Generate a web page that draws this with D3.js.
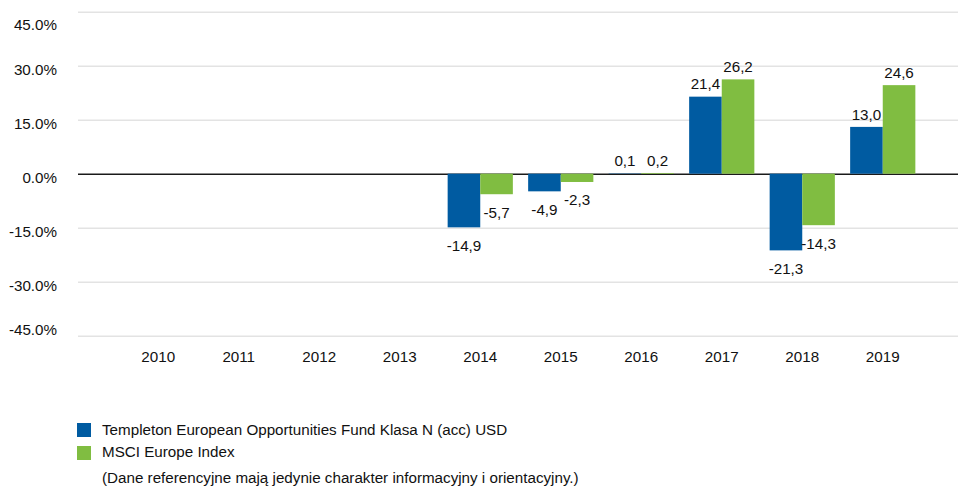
<!DOCTYPE html>
<html>
<head>
<meta charset="utf-8">
<script src="https://cdn.jsdelivr.net/npm/d3@7"></script>
<style>
  body { margin: 0; background: #fff; }
  svg { display: block; font-family: "Liberation Sans", Arial, sans-serif; }
</style>
</head>
<body>
<div id="chart"></div>
<script>
const years = ["2010", "2011", "2012", "2013", "2014", "2015", "2016", "2017", "2018", "2019"];
const fund = [null, null, null, null, -14.9, -4.9, 0.1, 21.4, -21.3, 13.0];
const index = [null, null, null, null, -5.7, -2.3, 0.2, 26.2, -14.3, 24.6];
const yTicks = [-45, -30, -15, 0, 15, 30, 45];
const seriesNames = ["Templeton European Opportunities Fund Klasa N (acc) USD", "MSCI Europe Index"];
const note = "(Dane referencyjne mają jedynie charakter informacyjny i orientacyjny.)";

const width = 958, height = 489;
const m = { l: 78, r: 0, t: 11.7, b: 153.3 };
const colors = ["#005BA1", "#80BD41"];
const fs = "15.2px";

const svg = d3.select("#chart").append("svg")
  .attr("width", width)
  .attr("height", height);

const x0 = d3.scaleBand()
  .domain(years)
  .range([118, 923])
  .paddingInner(0.19)
  .paddingOuter(0.095);

const x1 = d3.scaleBand()
  .domain([0, 1])
  .range([0, x0.bandwidth()]);

const y = d3.scaleLinear()
  .domain([-45, 45])
  .range([height - m.b, m.t]);

// hyphen minus, comma decimal
const fmt = v => d3.format(".1f")(v).replace("\u2212", "-").replace(".", ",");
const pct = v => d3.format(".1f")(v).replace("\u2212", "-") + "%";

// grid + y labels
const yAxis = svg.append("g")
  .attr("transform", `translate(${m.l},0)`)
  .call(d3.axisLeft(y).tickValues(yTicks).tickSize(-(width - m.l)).tickPadding(21)
    .tickFormat(pct));
yAxis.select(".domain").remove();
yAxis.selectAll(".tick line")
  .attr("stroke", d => d === 0 ? "#1a1a1a" : "#e3e3e3")
  .attr("stroke-width", 1.5);
yAxis.selectAll(".tick text")
  .attr("font-size", fs)
  .attr("fill", "#111")
  .attr("font-family", "Liberation Sans, Arial, sans-serif")
  .attr("dy", d => d === 45 ? "1.2em" : d === -45 ? "-0.07em" : "0.6em");

// x labels
svg.append("g")
  .selectAll("text")
  .data(years)
  .enter()
  .append("text")
  .attr("x", d => x0(d) + x0.bandwidth() / 2)
  .attr("y", 357)
  .attr("dy", "0.35em")
  .attr("text-anchor", "middle")
  .attr("font-size", fs)
  .attr("fill", "#111")
  .text(d => d);

// bars
const rows = years.map((yr, i) => ({ yr, vals: [fund[i], index[i]] }));

const groups = svg.append("g")
  .selectAll("g")
  .data(rows)
  .enter()
  .append("g")
  .attr("transform", d => `translate(${x0(d.yr)},0)`);

groups.selectAll("rect")
  .data(d => d.vals.map((v, k) => ({ v, k })).filter(e => e.v !== null))
  .enter()
  .append("rect")
  .attr("x", d => x1(d.k))
  .attr("width", x1.bandwidth())
  .attr("y", d => Math.min(y(d.v), y(0)))
  .attr("height", d => Math.abs(y(d.v) - y(0)))
  .attr("fill", d => colors[d.k]);

groups.selectAll("text")
  .data(d => d.vals.map((v, k) => ({ v, k })).filter(e => e.v !== null))
  .enter()
  .append("text")
  .attr("x", d => x1(d.k) + x1.bandwidth() / 2)
  .attr("y", d => d.v >= 0 ? y(d.v) - 12.5 : y(d.v) + 18)
  .attr("dy", "0.35em")
  .attr("text-anchor", "middle")
  .attr("font-size", fs)
  .attr("fill", "#111")
  .text(d => fmt(d.v));

// legend
const legend = svg.append("g");
seriesNames.forEach((name, i) => {
  legend.append("rect")
    .attr("x", 77)
    .attr("y", 423 + i * 23)
    .attr("width", 14)
    .attr("height", 14)
    .attr("fill", colors[i]);
  legend.append("text")
    .attr("x", 102)
    .attr("y", 430 + i * 22)
    .attr("dy", "0.35em")
    .attr("font-size", fs)
    .attr("fill", "#111")
    .text(name);
});
legend.append("text")
  .attr("x", 102)
  .attr("y", 478)
  .attr("dy", "0.35em")
  .attr("font-size", fs)
  .attr("fill", "#111")
  .text(note);
</script>
</body>
</html>
